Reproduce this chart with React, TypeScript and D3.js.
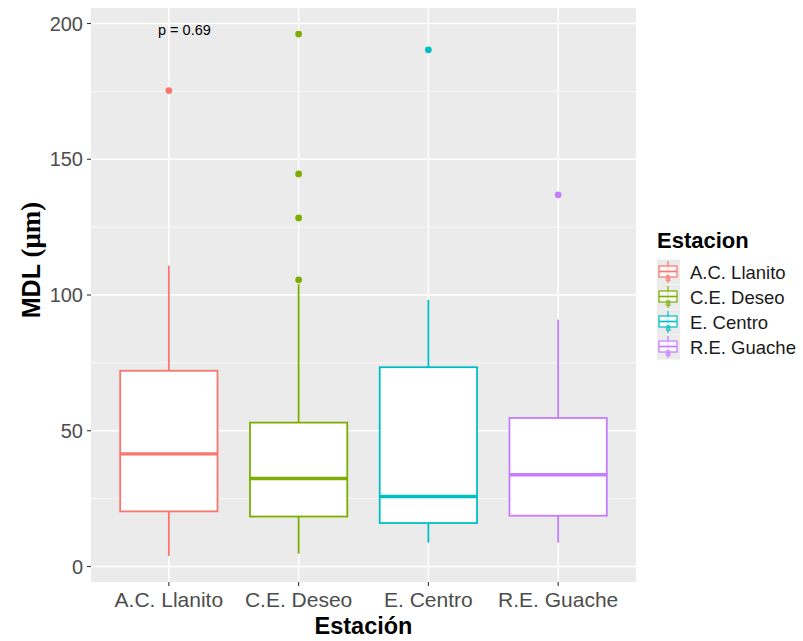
import React from "react";
import * as d3 from "d3";

const categories = ["A.C. Llanito", "C.E. Deseo", "E. Centro", "R.E. Guache"];
const colors = ["#F8766D", "#7CAE00", "#00BFC4", "#C77CFF"];
const lowerWhisker = [3.9, 4.7, 8.8, 8.8];
const q1 = [20.3, 18.4, 16.0, 18.7];
const median = [41.5, 32.4, 25.8, 33.8];
const q3 = [72.1, 53.0, 73.4, 54.7];
const upperWhisker = [110.8, 104.0, 98.2, 90.9];
const outliers = [[175.3], [105.6, 128.4, 144.6, 196.1], [190.3], [136.9]];
const yTicks = [0, 50, 100, 150, 200];
const yMinor = [25, 75, 125, 175];
const pLabel = "p = 0.69";

const W = 803, H = 641;
const panel = { left: 91, right: 636, top: 8, bottom: 582 };
const SANS = "'Liberation Sans', Arial, Helvetica, sans-serif";
const SERIF = "'Liberation Serif', 'Times New Roman', serif";

export default function App() {
  const allVals = [...lowerWhisker, ...upperWhisker, ...outliers.flat()];
  const lo = d3.min(allVals) as number;
  const hi = d3.max(allVals) as number;
  const pad = (hi - lo) * 0.05;
  const y = d3.scaleLinear().domain([lo - pad, hi + pad]).range([panel.bottom, panel.top]);
  const x = d3.scalePoint<string>().domain(categories).range([panel.left, panel.right]).padding(0.6);
  const step = x.step();
  const boxW = step * 0.75;

  const legendX = 657;
  const legendRows = [272, 297, 322, 347];

  return (
    <svg width={W} height={H} style={{ position: "absolute", left: 0, top: 0, background: "#fff" }}>
      <rect x={panel.left} y={panel.top} width={panel.right - panel.left} height={panel.bottom - panel.top} fill="#EBEBEB" />
      {yMinor.map((t) => (
        <line key={"mn" + t} x1={panel.left} x2={panel.right} y1={y(t)} y2={y(t)} stroke="#fff" strokeWidth={0.7} />
      ))}
      {yTicks.map((t) => (
        <line key={"mj" + t} x1={panel.left} x2={panel.right} y1={y(t)} y2={y(t)} stroke="#fff" strokeWidth={1.5} />
      ))}
      {categories.map((c) => (
        <line key={"vx" + c} x1={x(c)} x2={x(c)} y1={panel.top} y2={panel.bottom} stroke="#fff" strokeWidth={1.5} />
      ))}
      <text x={158} y={35} fontFamily={SANS} fontSize={14.5} fill="#000">{pLabel}</text>

      {categories.map((c, i) => {
        const cx = x(c) as number;
        return (
          <g key={"box" + c}>
            <line x1={cx} x2={cx} y1={y(upperWhisker[i])} y2={y(q3[i])} stroke={colors[i]} strokeWidth={1.8} />
            <line x1={cx} x2={cx} y1={y(q1[i])} y2={y(lowerWhisker[i])} stroke={colors[i]} strokeWidth={1.8} />
            <rect x={cx - boxW / 2} y={y(q3[i])} width={boxW} height={y(q1[i]) - y(q3[i])} fill="#fff" stroke={colors[i]} strokeWidth={1.8} />
            <line x1={cx - boxW / 2} x2={cx + boxW / 2} y1={y(median[i])} y2={y(median[i])} stroke={colors[i]} strokeWidth={3.4} />
            {outliers[i].map((o, j) => (
              <circle key={j} cx={cx} cy={y(o)} r={3.4} fill={colors[i]} />
            ))}
          </g>
        );
      })}

      {yTicks.map((t) => (
        <g key={"yt" + t}>
          <line x1={panel.left - 4} x2={panel.left} y1={y(t)} y2={y(t)} stroke="#333" strokeWidth={1.1} />
          <text x={panel.left - 8} y={y(t)} dy="0.36em" textAnchor="end" fontFamily={SANS} fontSize={20} fill="#4D4D4D">{t}</text>
        </g>
      ))}
      {categories.map((c) => (
        <g key={"xt" + c}>
          <line x1={x(c)} x2={x(c)} y1={panel.bottom} y2={panel.bottom + 4} stroke="#333" strokeWidth={1.1} />
          <text x={x(c)} y={panel.bottom + 25} textAnchor="middle" fontFamily={SANS} fontSize={21} fill="#4D4D4D">{c}</text>
        </g>
      ))}
      <text x={(panel.left + panel.right) / 2} y={634} textAnchor="middle" fontFamily={SANS} fontSize={23.5} fontWeight="bold" fill="#000">Estación</text>
      <text transform={`translate(40, 260) rotate(-90)`} textAnchor="middle" fontSize={25} fontWeight="bold" fill="#000">
        <tspan fontFamily={SANS}>MDL </tspan>
        <tspan fontFamily={SERIF} fontSize={27}>(μm)</tspan>
      </text>

      <text x={657} y={248} fontFamily={SANS} fontSize={22} fontWeight="bold" fill="#000">Estacion</text>
      {categories.map((c, i) => {
        const cy = legendRows[i];
        const kx = legendX + 11;
        return (
          <g key={"lg" + c}>
            <rect x={legendX} y={cy - 12.5} width={23} height={25} fill="#EBEBEB" />
            <line x1={kx} x2={kx} y1={cy - 11} y2={cy + 11} stroke={colors[i]} strokeWidth={1.2} />
            <rect x={kx - 9} y={cy - 6} width={18} height={11} fill="#fff" fillOpacity={0.7} stroke={colors[i]} strokeWidth={1.2} />
            <line x1={kx - 9} x2={kx + 9} y1={cy - 0.5} y2={cy - 0.5} stroke={colors[i]} strokeWidth={1.6} />
            <text x={kx} y={cy + 9} textAnchor="middle" fontFamily={SANS} fontSize={10} fill={colors[i]}>a</text>
            <text x={690} y={cy} dy="0.36em" fontFamily={SANS} fontSize={18.5} fill="#1A1A1A">{c}</text>
          </g>
        );
      })}
    </svg>
  );
}
